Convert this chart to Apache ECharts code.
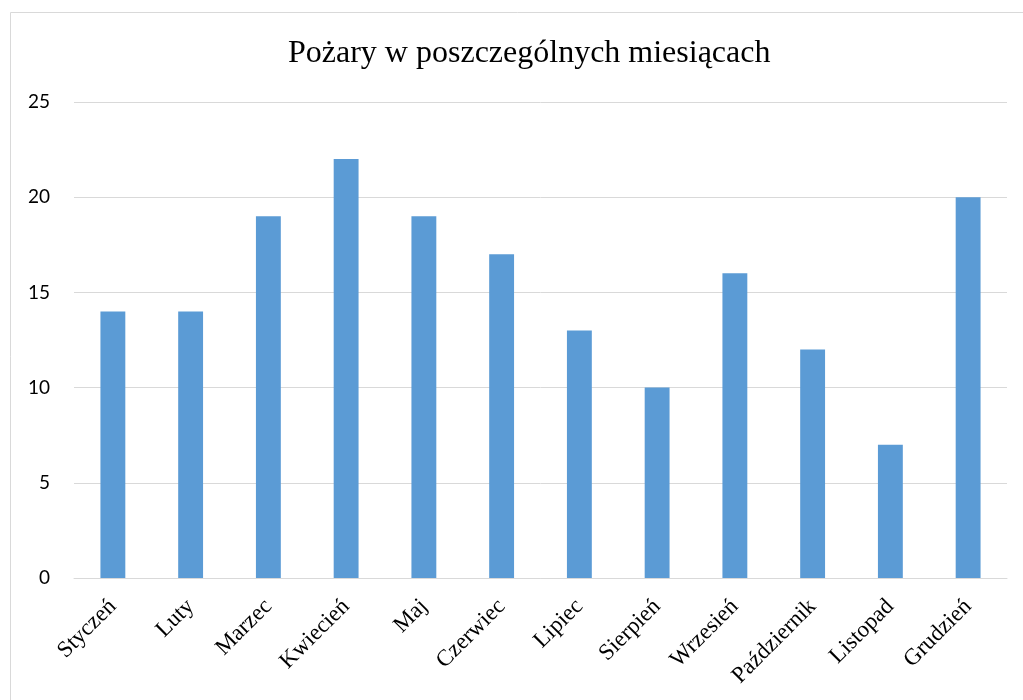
<!DOCTYPE html>
<html>
<head>
<meta charset="utf-8">
<script src="https://cdn.jsdelivr.net/npm/echarts@6/dist/echarts.min.js"></script>
<style>
  html, body { margin: 0; padding: 0; background: #fff; }
  #chart { width: 1023px; height: 700px; }
</style>
</head>
<body>
<div id="chart"></div>
<script>
const months = ['Styczeń', 'Luty', 'Marzec', 'Kwiecień', 'Maj', 'Czerwiec', 'Lipiec', 'Sierpień', 'Wrzesień', 'Październik', 'Listopad', 'Grudzień']
const fires = [14, 14, 19, 22, 19, 17, 13, 10, 16, 12, 7, 20]
const yTicks = [0, 5, 10, 15, 20, 25]

const chart = echarts.init(document.getElementById('chart'))
chart.setOption({
  animation: false,
  title: {
    text: 'Pożary w poszczególnych miesiącach',
    left: 283,
    top: 33,
    textStyle: {
      fontFamily: 'Liberation Serif',
      fontSize: 32,
      fontWeight: 'normal',
      color: '#000'
    }
  },
  graphic: [{
    type: 'rect',
    shape: { x: 10.5, y: 12.5, width: 1030, height: 700 },
    style: { fill: 'none', stroke: '#d9d9d9', lineWidth: 1 },
    silent: true
  }],
  grid: {
    left: 74,
    right: 16,
    top: 102,
    bottom: 122
  },
  xAxis: {
    type: 'category',
    data: months,
    axisTick: { show: false },
    axisLine: { lineStyle: { color: '#d9d9d9', width: 1 } },
    axisLabel: {
      rotate: 45,
      interval: 0,
      margin: 25,
      fontFamily: 'Liberation Serif',
      fontSize: 23,
      color: '#000'
    }
  },
  yAxis: {
    type: 'value',
    min: yTicks[0],
    max: yTicks[yTicks.length - 1],
    interval: 5,
    axisLine: { show: false },
    axisTick: { show: false },
    splitLine: { lineStyle: { color: '#d9d9d9', width: 1 } },
    axisLabel: {
      margin: 24,
      fontFamily: 'Lato',
      fontSize: 19,
      color: '#000'
    }
  },
  series: [{
    type: 'bar',
    data: fires,
    barWidth: '32%',
    itemStyle: { color: '#5b9bd5' }
  }]
})
</script>
</body>
</html>
